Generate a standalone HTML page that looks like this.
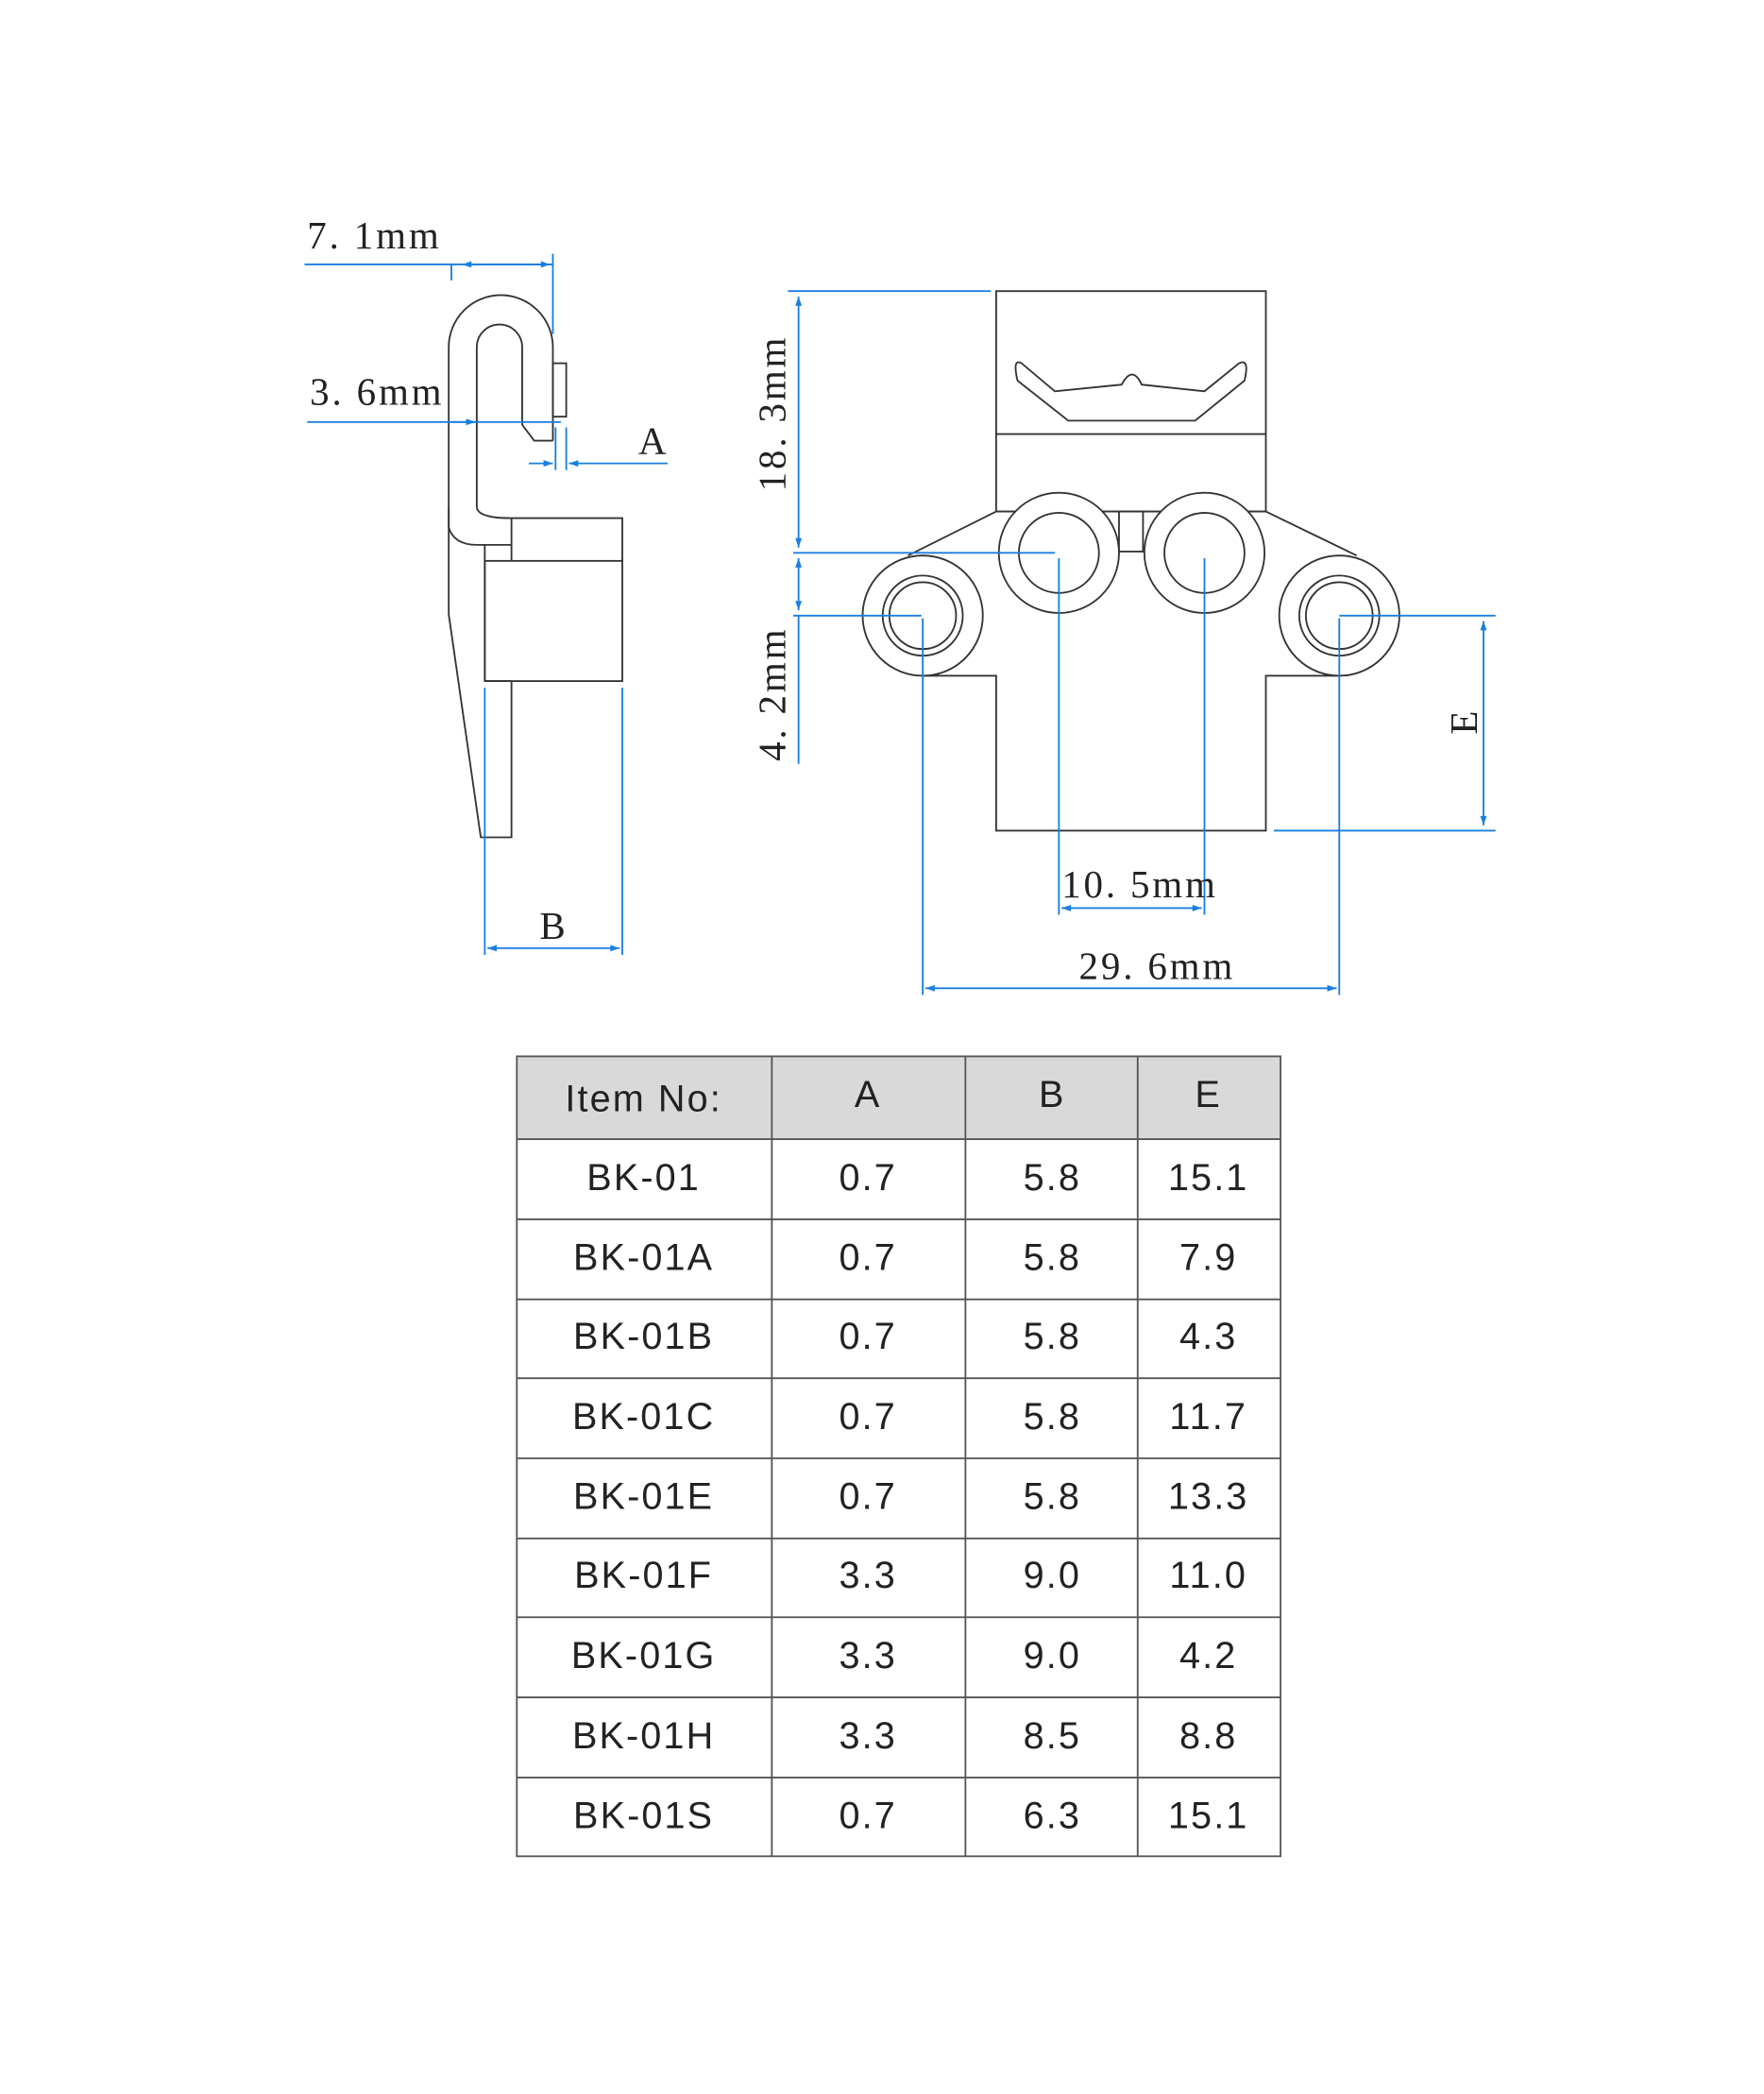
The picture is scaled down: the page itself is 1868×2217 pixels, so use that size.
<!DOCTYPE html>
<html><head><meta charset="utf-8"><style>
html,body{margin:0;padding:0;background:#fff}
svg{display:block}
.d{stroke:#333;stroke-width:1.3;fill:none}
.b{stroke:#1a7fe0;stroke-width:1.3;fill:none}
.t{font-family:"Liberation Serif",serif;font-size:29px;fill:#222;letter-spacing:2px}
.c{font-family:"Liberation Sans",sans-serif;font-size:28px;fill:#222;text-anchor:middle;letter-spacing:1.5px}
</style></head><body>
<svg width="1868" height="2217" viewBox="0 0 1321 1568" xmlns="http://www.w3.org/2000/svg">
<defs><marker id="a" viewBox="0 0 10 10" refX="10" refY="5" markerWidth="16" markerHeight="7" orient="auto-start-reverse" markerUnits="userSpaceOnUse"><path d="M0,1.5 L10,5 L0,8.5z" fill="#1a7fe0"/></marker></defs>
<path class="d" d="M336,395 L336,260 A39,39 0 0 1 414,260 L414,330"/>
<path class="d" d="M357,380 L357,260 A17,17 0 0 1 391,260 L391,318 L400,330 L414,330"/>
<path class="d" d="M357,380 Q358,388 383,388"/>
<rect class="d" x="414" y="272" width="10" height="40"/>
<path class="d" d="M336,380 L336,460 L360,627 L383,627 L383,510"/>
<path class="d" d="M336,395 Q340,408 357,408 L383,408"/>
<rect class="d" x="363" y="420" width="103" height="90"/>
<path class="d" d="M383,388 L466,388 L466,420 M383,388 L383,420 M363,408 L363,510 M363,510 L383,510"/>
<path class="b" d="M228,198 L414,198 M414,190 L414,250 M338,198 L338,210"/>
<path class="b" d="M346,198 L412,198" marker-start="url(#a)" marker-end="url(#a)"/>
<path class="b" d="M230,316 L420,316"/>
<path class="b" d="M338,316 L356,316" marker-end="url(#a)"/>
<path class="b" d="M416,320 L416,352 M424,320 L424,352"/>
<path class="b" d="M396,347 L414,347" marker-end="url(#a)"/>
<path class="b" d="M500,347 L426,347" marker-end="url(#a)"/>
<path class="b" d="M363,515 L363,715 M466,515 L466,715"/>
<path class="b" d="M365,710 L464,710" marker-start="url(#a)" marker-end="url(#a)"/>
<text class="t" x="230" y="186">7. 1mm</text>
<text class="t" x="232" y="303">3. 6mm</text>
<text class="t" x="478" y="340">A</text>
<text class="t" x="404" y="703">B</text>
<rect class="d" x="746" y="218" width="202" height="165"/>
<line class="d" x1="746" y1="325" x2="948" y2="325"/>
<path class="d" d="M765,272 Q758,268 762,285 L800,315 L895,315 L932,285 Q936,268 928,272 L902,293 L855,288 Q848,273 840,288 L790,293 Z"/>
<path class="d" d="M746,383 L680,416 M948,383 L1016,416 M746,383 L948,383"/>
<rect class="d" x="838" y="383" width="18" height="30"/>
<path class="d" d="M691,506 L746,506 L746,622 L948,622 L948,506 L1003,506"/>
<g class="d">
<circle cx="691" cy="461" r="45" fill="#fff"/><circle cx="691" cy="461" r="30"/><circle cx="691" cy="461" r="25"/>
<circle cx="1003" cy="461" r="45" fill="#fff"/><circle cx="1003" cy="461" r="30"/><circle cx="1003" cy="461" r="25"/>
<circle cx="793" cy="414" r="45" fill="#fff"/><circle cx="793" cy="414" r="30"/>
<circle cx="902" cy="414" r="45" fill="#fff"/><circle cx="902" cy="414" r="30"/>
</g>
<path class="b" d="M590,218 L742,218 M594,414 L790,414 M594,461 L690,461"/>
<path class="b" d="M598,222 L598,410" marker-start="url(#a)" marker-end="url(#a)"/>
<path class="b" d="M598,418 L598,457" marker-start="url(#a)" marker-end="url(#a)"/>
<path class="b" d="M598,461 L598,572"/>
<path class="b" d="M1003,461 L1120,461 M954,622 L1120,622"/>
<path class="b" d="M1111,465 L1111,618" marker-start="url(#a)" marker-end="url(#a)"/>
<path class="b" d="M793,418 L793,685 M902,418 L902,685 M691,463 L691,745 M1003,463 L1003,745"/>
<path class="b" d="M795,680 L900,680" marker-start="url(#a)" marker-end="url(#a)"/>
<path class="b" d="M693,740 L1001,740" marker-start="url(#a)" marker-end="url(#a)"/>
<text class="t" x="795" y="672">10. 5mm</text>
<text class="t" x="808" y="733">29. 6mm</text>
<text class="t" transform="translate(588,368) rotate(-90)">18. 3mm</text>
<text class="t" transform="translate(588,570) rotate(-90)">4. 2mm</text>
<text class="t" transform="translate(1106,550) rotate(-90)">E</text>
<rect x="387" y="791" width="572" height="62" fill="#d9d9d9"/>
<g stroke="#555" stroke-width="1.3" fill="none">
<rect x="387" y="791" width="572" height="599"/>
<path d="M578,791V1390M723,791V1390M852,791V1390M387,853H959M387,913H959M387,973H959M387,1032H959M387,1092H959M387,1152H959M387,1211H959M387,1271H959M387,1331H959"/>
</g>
<g class="c">
<text x="482" y="832">Item No:</text><text x="650" y="829">A</text><text x="788" y="829">B</text><text x="905" y="829">E</text>
<text x="482" y="891">BK-01</text><text x="650" y="891">0.7</text><text x="788" y="891">5.8</text><text x="905" y="891">15.1</text>
<text x="482" y="951">BK-01A</text><text x="650" y="951">0.7</text><text x="788" y="951">5.8</text><text x="905" y="951">7.9</text>
<text x="482" y="1010">BK-01B</text><text x="650" y="1010">0.7</text><text x="788" y="1010">5.8</text><text x="905" y="1010">4.3</text>
<text x="482" y="1070">BK-01C</text><text x="650" y="1070">0.7</text><text x="788" y="1070">5.8</text><text x="905" y="1070">11.7</text>
<text x="482" y="1130">BK-01E</text><text x="650" y="1130">0.7</text><text x="788" y="1130">5.8</text><text x="905" y="1130">13.3</text>
<text x="482" y="1189">BK-01F</text><text x="650" y="1189">3.3</text><text x="788" y="1189">9.0</text><text x="905" y="1189">11.0</text>
<text x="482" y="1249">BK-01G</text><text x="650" y="1249">3.3</text><text x="788" y="1249">9.0</text><text x="905" y="1249">4.2</text>
<text x="482" y="1309">BK-01H</text><text x="650" y="1309">3.3</text><text x="788" y="1309">8.5</text><text x="905" y="1309">8.8</text>
<text x="482" y="1369">BK-01S</text><text x="650" y="1369">0.7</text><text x="788" y="1369">6.3</text><text x="905" y="1369">15.1</text>
</g>
</svg>
</body></html>
